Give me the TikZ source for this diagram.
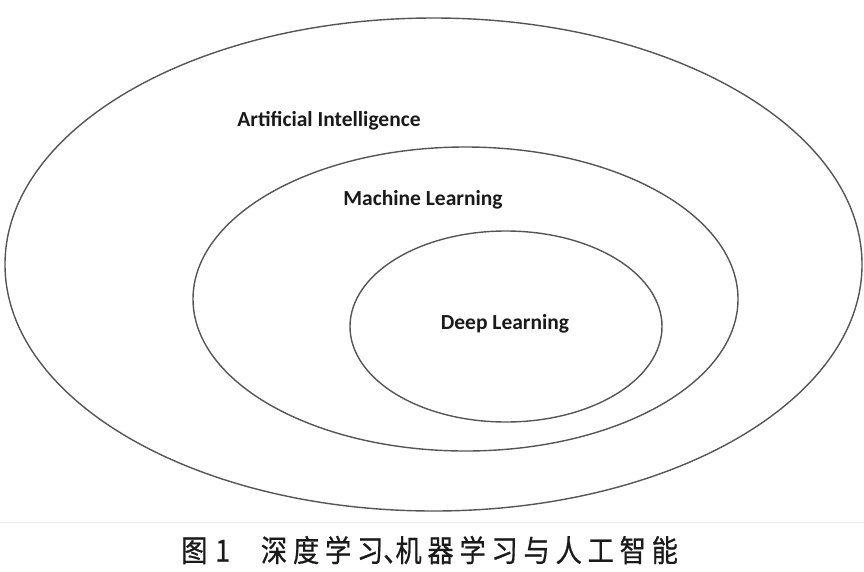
\documentclass[tikz,border=0pt]{standalone}
\usepackage{fontspec}
\setmainfont{Carlito}
\newfontfamily\cjk[FakeBold=0.6, FakeStretch=0.86, LetterSpace=19]{Noto Sans CJK SC}
\usetikzlibrary{positioning,shapes.geometric}
\definecolor{ringgray}{HTML}{555555}
\definecolor{labelblack}{HTML}{1A1A1A}
\definecolor{edgegray}{HTML}{EDEDED}

\begin{document}
\begin{tikzpicture}[
  x=1pt, y=-1pt,
  ring/.style={ellipse, draw=ringgray, line width=1.4pt, inner sep=0pt},
  ringlabel/.style={font=\fontsize{21.5}{25}\selectfont\bfseries, text=labelblack, inner sep=0pt},
  caption/.style={font=\cjk\fontsize{30.5}{34}\selectfont, text=labelblack, inner sep=0pt}
]
  \useasboundingbox (0,0) rectangle (864,571);
  % nested sets
  \node[ring, minimum width=857pt, minimum height=493pt] (ai) at (433.5,264.5) {};
  \node[ring, minimum width=545pt, minimum height=304pt] (ml) at (465.5,299) {};
  \node[ring, minimum width=312pt, minimum height=191pt] (dl) at (506,326.5) {};
  % labels
  \node[ringlabel] (ailabel) at (329,121) {Artificial Intelligence};
  \node[ringlabel] (mllabel) at (423,200) {Machine Learning};
  \node[ringlabel] (dllabel) at (505,324) {Deep Learning};
  % figure caption
  \coordinate (capleft) at (0,522);
  \coordinate (capright) at (864,522);
  \draw[edgegray, line width=0.8pt] (capleft) -- (capright);
  \node[caption, anchor=west] (figcap) at (181,550)
    {图\hspace{8pt}1\hspace{31pt}深度学习\makebox[0.4em][l]{、}机器学习与人工智能};
\end{tikzpicture}
\end{document}
